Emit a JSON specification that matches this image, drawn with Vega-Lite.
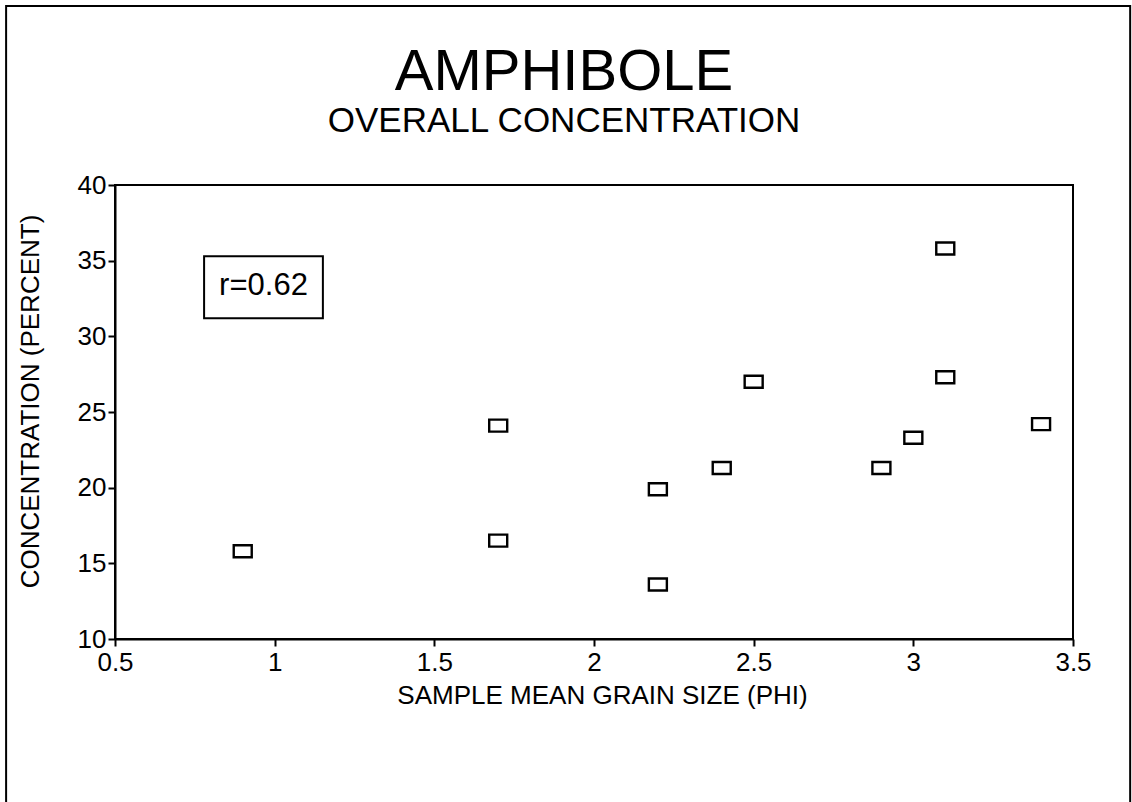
{
  "$schema": "https://vega.github.io/schema/vega-lite/v6.json",
  "width": 958,
  "height": 454,
  "autosize": {"type": "none"},
  "padding": {"left": 115, "top": 185, "right": 59, "bottom": 163},
  "background": "white",
  "config": {
    "font": "Liberation Sans",
    "view": {"stroke": "black", "strokeWidth": 2}
  },
  "title": {
    "text": "AMPHIBOLE",
    "subtitle": "OVERALL CONCENTRATION",
    "font": "Liberation Sans",
    "subtitleFont": "Liberation Sans",
    "fontSize": 58,
    "fontWeight": "normal",
    "subtitleFontSize": 35,
    "color": "black",
    "subtitleColor": "black",
    "anchor": "middle",
    "frame": "group",
    "offset": -134,
    "dx": -30,
    "subtitlePadding": 2
  },
  "datasets": {
    "points": [
      {"phi": 0.9, "conc": 15.8},
      {"phi": 1.7, "conc": 24.1},
      {"phi": 1.7, "conc": 16.5},
      {"phi": 2.2, "conc": 19.9},
      {"phi": 2.2, "conc": 13.6},
      {"phi": 2.4, "conc": 21.3},
      {"phi": 2.5, "conc": 27.0},
      {"phi": 2.9, "conc": 21.3},
      {"phi": 3.0, "conc": 23.3},
      {"phi": 3.1, "conc": 35.8},
      {"phi": 3.1, "conc": 27.3},
      {"phi": 3.4, "conc": 24.2}
    ],
    "note": [
      {"x1": 0.779, "x2": 1.151, "y1": 35.3, "y2": 31.2, "xc": 0.965, "yc": 33.3, "label": "r=0.62"}
    ]
  },
  "layer": [
    {
      "data": {"values": [{}]},
      "mark": {"type": "rect", "fillOpacity": 0, "stroke": "black", "strokeWidth": 2, "clip": false},
      "encoding": {
        "x": {"datum": 0.159, "type": "quantitative", "scale": {"domain": [0.5, 3.5], "nice": false, "zero": false}},
        "x2": {"datum": 3.679},
        "y": {"datum": 51.83, "type": "quantitative", "scale": {"domain": [10, 40], "nice": false, "zero": false}},
        "y2": {"datum": -1.5}
      }
    },
    {
      "data": {"name": "note"},
      "mark": {"type": "rect", "fillOpacity": 0, "stroke": "black", "strokeWidth": 2},
      "encoding": {
        "x": {"field": "x1", "type": "quantitative", "scale": {"domain": [0.5, 3.5], "nice": false, "zero": false}},
        "x2": {"field": "x2"},
        "y": {"field": "y1", "type": "quantitative", "scale": {"domain": [10, 40], "nice": false, "zero": false}},
        "y2": {"field": "y2"}
      }
    },
    {
      "data": {"name": "note"},
      "mark": {"type": "text", "fontSize": 31, "color": "black", "align": "center", "baseline": "middle"},
      "encoding": {
        "x": {"field": "xc", "type": "quantitative", "scale": {"domain": [0.5, 3.5], "nice": false, "zero": false}},
        "y": {"field": "yc", "type": "quantitative", "scale": {"domain": [10, 40], "nice": false, "zero": false}},
        "text": {"field": "label"}
      }
    },
    {
      "data": {"name": "points"},
      "mark": {"type": "point", "shape": "M-1,-0.667H1V0.667H-1Z", "size": 324, "filled": false, "stroke": "black", "strokeWidth": 2.4, "opacity": 1},
      "encoding": {
        "x": {
          "field": "phi", "type": "quantitative",
          "scale": {"domain": [0.5, 3.5], "nice": false, "zero": false},
          "axis": {
            "title": "SAMPLE MEAN GRAIN SIZE (PHI)",
            "values": [0.5, 1, 1.5, 2, 2.5, 3, 3.5],
            "labelExpr": "'' + datum.value",
            "grid": false,
            "domainColor": "black", "domainWidth": 2,
            "tickColor": "black", "tickWidth": 2, "tickSize": 7,
            "labelFontSize": 26, "labelColor": "black", "labelPadding": 3,
            "labelFlush": false, "labelOverlap": false,
            "titleFontSize": 26, "titleFontWeight": "normal", "titleColor": "black",
            "titleX": 487, "titleY": 56, "titleBaseline": "middle", "titleAlign": "center"
          }
        },
        "y": {
          "field": "conc", "type": "quantitative",
          "scale": {"domain": [10, 40], "nice": false, "zero": false},
          "axis": {
            "title": "CONCENTRATION (PERCENT)",
            "values": [10, 15, 20, 25, 30, 35, 40],
            "grid": false,
            "domainColor": "black", "domainWidth": 2,
            "tickColor": "black", "tickWidth": 2, "tickSize": 7,
            "labelFontSize": 26, "labelColor": "black", "labelPadding": 2,
            "labelFlush": false, "labelOverlap": false,
            "titleFontSize": 26, "titleFontWeight": "normal", "titleColor": "black",
            "titleX": -85, "titleY": 216, "titleBaseline": "middle", "titleAlign": "center", "titleAngle": -90
          }
        }
      }
    }
  ]
}
